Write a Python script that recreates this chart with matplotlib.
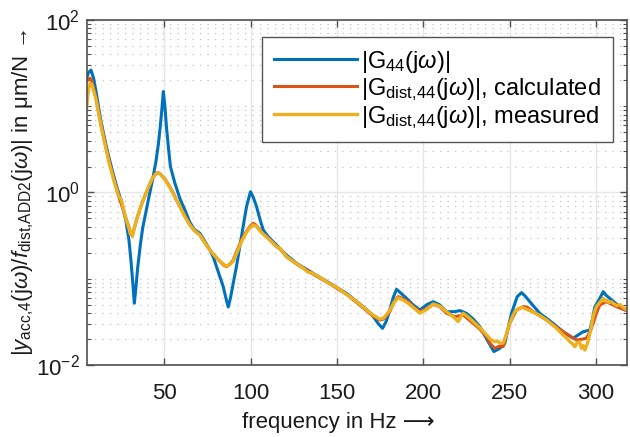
import numpy as np
import matplotlib
matplotlib.use('Agg')
import matplotlib.pyplot as plt
from matplotlib.ticker import LogLocator, MultipleLocator, NullFormatter

# Werte (Frequenz in Hz, Betrag in um/N)
f_g44 = [5, 6, 7.5, 9, 10.4, 12, 13.3, 14.8, 16.2, 18, 20, 22, 23.9, 26, 27.8, 29.5,
         30.7, 31.8, 32.6, 33.5, 34.5, 36, 37.4, 39.5, 41.3, 43.3, 45.1, 46.5, 47.5,
         48.5, 49.4, 50.3, 51.3, 52.5, 53.5, 56, 59, 62, 64.8, 67.5, 70.6, 73.5, 76.4,
         78.5, 80.2, 82.2, 84.1, 85.8, 87, 88.3, 89.9, 91.8, 93.7, 95.7, 97.6, 99.9,
         101.5, 103.4, 105.5, 107.3, 110, 113, 116.9, 120.8, 126.6, 136.2, 145.9, 155.5,
         165.2, 170, 174, 176.4, 178.5, 180.6, 182.5, 184.5, 187, 190.3, 194, 198, 202,
         205.7, 209.6, 213.5, 218.3, 221.2, 225, 229, 232.8, 237.6, 240.9, 244.3, 247.2,
         249, 251.1, 254.4, 256.9, 259, 261.7, 267.5, 275.2, 281, 286.8, 290, 292.6,
         296.5, 298, 299.4, 302.3, 304.2, 306, 308, 313.8, 318]
g44 = [21, 24.5, 26.3, 21, 14.8, 9.5, 6.6, 4.8, 3.55, 2.5, 1.74, 1.25, 0.935, 0.66, 0.46,
       0.28, 0.158, 0.085, 0.052, 0.078, 0.132, 0.24, 0.384, 0.62, 0.935, 1.45, 2.28, 3.6,
       5.5, 9.0, 14.8, 10.0, 5.5, 3.1, 2.0, 1.3, 0.85, 0.62, 0.45, 0.37, 0.336, 0.27, 0.215,
       0.175, 0.138, 0.105, 0.081, 0.058, 0.047, 0.06, 0.0885, 0.14, 0.236, 0.41, 0.686,
       1.02, 0.88, 0.686, 0.48, 0.367, 0.31, 0.269, 0.225, 0.188, 0.151, 0.1155, 0.0885,
       0.0678, 0.0474, 0.039, 0.030, 0.0266, 0.032, 0.0434, 0.06, 0.0754, 0.068, 0.0593,
       0.05, 0.0434, 0.05, 0.0542, 0.0496, 0.0415, 0.0415, 0.0427, 0.0397, 0.034, 0.0278,
       0.0186, 0.0143, 0.0156, 0.0178, 0.026, 0.0397, 0.062, 0.069, 0.063, 0.0542, 0.0397,
       0.0304, 0.0243, 0.0204, 0.0225, 0.0243, 0.0254, 0.034, 0.0474, 0.0593, 0.0708,
       0.064, 0.0593, 0.0474, 0.0425]

f_calc = [5, 6, 6.9, 8, 9, 10.4, 12, 13.3, 14.8, 16.2, 18, 20, 22, 23.9, 25, 26.8, 28.5,
          29.7, 30.6, 31.5, 32.5, 33.6, 35.5, 37.4, 39.5, 41.3, 43, 44.5, 46.1, 47.5, 50,
          52, 54.8, 57, 59, 62, 64.8, 67.5, 70.6, 73.5, 76.4, 79, 82.2, 84.5, 86, 88, 89.9,
          92, 94.7, 97, 99.5, 101.5, 103, 105.3, 108, 111.1, 115, 117, 120.8, 126.6, 136.2,
          145.9, 155.5, 165.2, 170, 174.8, 177, 180.6, 183, 185.4, 188, 191.2, 195, 198,
          202, 205.7, 209.6, 213.5, 218.3, 223.1, 228.9, 232.8, 236.6, 239, 241.4, 244,
          246.3, 248, 250.1, 254, 257.9, 260, 263.6, 271.4, 281, 288.7, 291.5, 294.5,
          296.5, 298.4, 300.3, 302.3, 306.1, 311.9, 318]
g_calc = [19.3, 20.5, 21.1, 19.5, 16, 12.4, 8.3, 6.06, 4.4, 3.25, 2.3, 1.6, 1.15, 0.855,
          0.74, 0.573, 0.45, 0.384, 0.33, 0.33, 0.38, 0.459, 0.61, 0.783, 1.0, 1.22, 1.45,
          1.6, 1.71, 1.65, 1.46, 1.27, 1.02, 0.82, 0.686, 0.53, 0.42, 0.36, 0.321, 0.26,
          0.215, 0.185, 0.158, 0.143, 0.138, 0.148, 0.165, 0.21, 0.281, 0.34, 0.402, 0.439,
          0.42, 0.367, 0.32, 0.281, 0.235, 0.222, 0.18, 0.148, 0.113, 0.087, 0.066, 0.046,
          0.038, 0.0332, 0.034, 0.0415, 0.054, 0.062, 0.059, 0.0542, 0.046, 0.0415, 0.045,
          0.0505, 0.0474, 0.0397, 0.0363, 0.038, 0.0304, 0.026, 0.0213, 0.0175, 0.0156,
          0.0165, 0.0163, 0.022, 0.0304, 0.0434, 0.0474, 0.047, 0.0415, 0.0332, 0.0243,
          0.0195, 0.0198, 0.0204, 0.024, 0.0304, 0.04, 0.0496, 0.0542, 0.0474, 0.0425]

f_meas = [5, 5.5, 6.2, 7, 8, 9, 10.4, 12, 13.3, 14.8, 16.2, 18, 20, 21.5, 22.5, 23.3, 24,
          25, 26.8, 28.5, 29.7, 30.3, 30.9, 31.5, 32.2, 33.6, 35.5, 37.4, 39.5, 41.3, 43,
          44.5, 46.1, 47.5, 50, 52, 54.8, 57, 59, 62, 64.8, 67.5, 70.6, 73.5, 76.4, 79, 82.2,
          84.5, 86, 88, 89.9, 92, 94.7, 97, 99.5, 101.5, 103, 105.3, 108, 111.1, 115, 117,
          120.8, 124, 126.6, 130, 133, 136.2, 140, 145.9, 150, 155.5, 160, 165.2, 170,
          174.8, 177, 180.6, 183, 185.4, 188, 191.2, 195, 198, 202, 205.7, 209.6, 213.5,
          216, 218.3, 220.2, 222, 223.1, 226, 228.9, 232.8, 236.6, 239, 241.4, 243, 244.5,
          246.3, 248, 249.2, 251, 253, 255, 256.9, 259, 263, 268, 271.4, 275, 277.2, 279,
          281, 283, 284.9, 286.2, 287.8, 289, 290.5, 291.6, 292.6, 293.6, 294.6, 295.4,
          296.5, 297.5, 298.4, 299.3, 300.3, 301.5, 302.5, 303.5, 304.2, 305.2, 306.5,
          307.5, 309, 310, 312, 314, 316, 318]
g_meas = [9.5, 12.5, 16, 18.4, 18, 15.2, 12.1, 8.1, 5.9, 4.3, 3.2, 2.2, 1.57, 1.22, 1.08,
          0.93, 0.87, 0.83, 0.58, 0.44, 0.37, 0.33, 0.35, 0.31, 0.36, 0.46, 0.62, 0.79, 1.0,
          1.22, 1.45, 1.6, 1.7, 1.64, 1.44, 1.25, 1.0, 0.82, 0.68, 0.52, 0.42, 0.36, 0.32,
          0.26, 0.215, 0.186, 0.16, 0.146, 0.14, 0.146, 0.16, 0.2, 0.27, 0.33, 0.39, 0.42,
          0.41, 0.36, 0.32, 0.281, 0.236, 0.224, 0.181, 0.162, 0.15, 0.135, 0.12, 0.115,
          0.104, 0.087, 0.079, 0.066, 0.057, 0.047, 0.039, 0.034, 0.035, 0.043, 0.053, 0.06,
          0.057, 0.052, 0.045, 0.04, 0.044, 0.051, 0.048, 0.0415, 0.038, 0.0348, 0.0318,
          0.037, 0.0397, 0.036, 0.0318, 0.027, 0.0223, 0.0198, 0.0186, 0.019, 0.0178, 0.018,
          0.022, 0.0266, 0.034, 0.0415, 0.045, 0.0466, 0.045, 0.0415, 0.037, 0.0332, 0.029,
          0.0266, 0.0245, 0.0223, 0.0205, 0.0186, 0.0178, 0.0163, 0.018, 0.0186, 0.0156,
          0.0168, 0.0149, 0.0168, 0.0186, 0.0233, 0.029, 0.0363, 0.042, 0.0474, 0.051,
          0.054, 0.057, 0.0593, 0.055, 0.056, 0.053, 0.054, 0.0519, 0.049, 0.05, 0.046,
          0.0434]

labels = [r'$|\mathrm{G}_{44}(\mathrm{j}\omega)|$',
          r'$|\mathrm{G}_{\mathrm{dist{,}44}}(\mathrm{j}\omega)|$, calculated',
          r'$|\mathrm{G}_{\mathrm{dist{,}44}}(\mathrm{j}\omega)|$, measured']

plt.rcParams['font.family'] = ['Liberation Sans', 'DejaVu Sans']
plt.rcParams['mathtext.fontset'] = 'custom'
plt.rcParams['mathtext.rm'] = 'Liberation Sans'
plt.rcParams['mathtext.it'] = 'Liberation Sans:italic'
plt.rcParams['mathtext.bf'] = 'Liberation Sans:bold'

fig = plt.figure(figsize=(6.3, 4.37), dpi=100)
ax = fig.add_axes([0.1376, 0.1648, 0.8576, 0.7895])

ax.plot(f_g44, g44, color='#0072BD', lw=2.2, label=labels[0])
ax.plot(f_calc, g_calc, color='#D95319', lw=2.2, label=labels[1])
ax.plot(f_meas, g_meas, color='#EDB120', lw=2.4, label=labels[2])

ax.set_yscale('log')
ax.set_xlim(5, 318)
ax.set_ylim(1e-2, 1e2)
ax.xaxis.set_major_locator(MultipleLocator(50))
ax.yaxis.set_major_locator(LogLocator(base=100))
ax.yaxis.set_minor_locator(LogLocator(base=10, subs=np.arange(1, 10), numticks=100))
ax.yaxis.set_minor_formatter(NullFormatter())

# Gitter: Hauptlinien durchgezogen, Nebenlinien gepunktet (nur y)
ax.set_axisbelow(True)
ax.grid(True, which='major', color='#e6e6e6', lw=1.0)
ax.yaxis.grid(True, which='minor', color='#c4c4c4', ls=(0, (1, 5)), lw=0.9)

for s in ax.spines.values():
    s.set_color('#505050')
    s.set_linewidth(1.2)
ax.tick_params(which='both', direction='in', top=True, right=True,
               color='#505050', labelsize=16, labelcolor='#1a1a1a')
ax.tick_params(which='major', length=5, width=1.0)
ax.tick_params(which='minor', length=3, width=0.8)
ax.tick_params(axis='x', pad=13)
ax.tick_params(axis='y', pad=5)

ax.set_xlabel('frequency in Hz ⟶', fontsize=16, color='#1a1a1a')
ax.xaxis.set_label_coords(0.465, -0.135)
ax.set_ylabel(r'$|y_{\mathrm{acc{,}4}}(\mathrm{j}\omega)/f_{\mathrm{dist{,}ADD2}}(\mathrm{j}\omega)|$ in μm/N →',
              fontsize=16, color='#1a1a1a')
ax.yaxis.set_label_coords(-0.094, 0.5)

leg = ax.legend(loc='upper right', bbox_to_anchor=(0.974, 0.951), borderaxespad=0,
                fontsize=17, fancybox=False, framealpha=1, edgecolor='#555555',
                handlelength=3.5, handletextpad=0.2, labelspacing=0.05, borderpad=0.5)
leg.get_frame().set_linewidth(1.0)

fig.savefig('out.png', dpi=100)
